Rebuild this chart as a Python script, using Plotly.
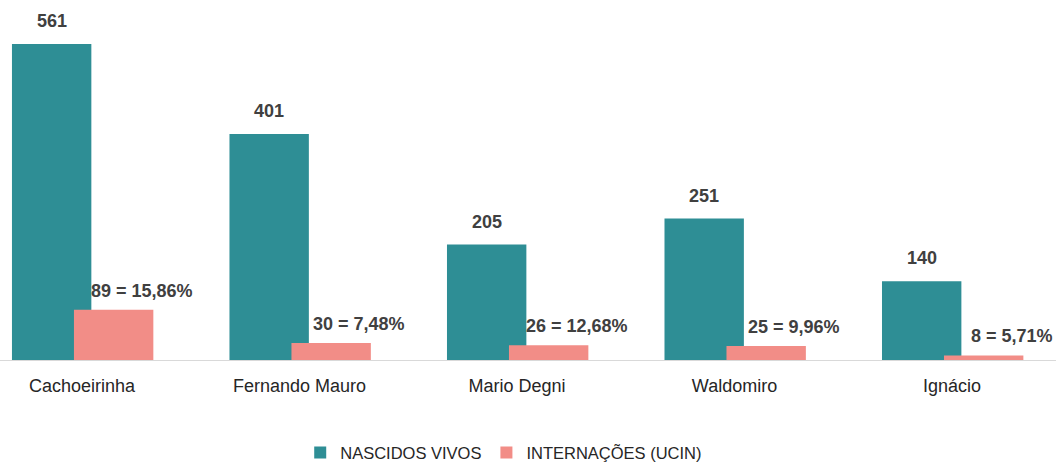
import plotly.graph_objects as go

categories = ["Cachoeirinha", "Fernando Mauro", "Mario Degni", "Waldomiro", "Ignácio"]
nascidos = [561, 401, 205, 251, 140]
internacoes = [89, 30, 26, 25, 8]
internacoes_labels = ["89 = 15,86%", "30 = 7,48%", "26 = 12,68%", "25 = 9,96%", "8 = 5,71%"]

TEAL = "#2E8E95"
SALMON = "#F28D87"
TXT = "#404040"
FONT = "Liberation Sans, Arial, sans-serif"
W = 0.365
OFF_T = -0.322
OFF_S = -0.037

fig = go.Figure()
fig.add_trace(go.Bar(name="NASCIDOS VIVOS", x=categories, y=nascidos,
                     marker=dict(color=TEAL, line=dict(width=0)),
                     width=W, offset=OFF_T))
fig.add_trace(go.Bar(name="INTERNAÇÕES (UCIN)", x=categories, y=internacoes,
                     marker=dict(color=SALMON, line=dict(width=0)),
                     width=W, offset=OFF_S))

for i, v in enumerate(nascidos):
    fig.add_annotation(x=i + OFF_T + W / 2, y=v, text=f"<b>{v}</b>", showarrow=False,
                       yanchor="bottom", yshift=11, xref="x", yref="y",
                       font=dict(family=FONT, size=18, color=TXT))
for i, (v, t) in enumerate(zip(internacoes, internacoes_labels)):
    fig.add_annotation(x=i + OFF_S + W / 2 + 0.13, y=v, text=f"<b>{t}</b>", showarrow=False,
                       yanchor="bottom", yshift=7, xref="x", yref="y",
                       font=dict(family=FONT, size=18, color=TXT))

fig.update_layout(
    barmode="overlay",
    width=1056, height=465,
    margin=dict(l=0, r=0, t=0, b=105, autoexpand=False),
    plot_bgcolor="white", paper_bgcolor="white",
    font=dict(family=FONT, color=TXT),
    showlegend=True,
    legend=dict(orientation="h", x=0.477, xanchor="center", y=-0.258, yanchor="middle",
                font=dict(family=FONT, size=16.5, color="#262626"), itemwidth=30,
                traceorder="normal"),
)
fig.update_xaxes(type="category", range=[-0.377, 4.478], showline=True, linecolor="#D9D9D9",
                 linewidth=1, showgrid=False, ticks="", ticklabelstandoff=9,
                 tickfont=dict(family=FONT, size=18, color="#262626"))
fig.update_yaxes(range=[0, 639], visible=False, showgrid=False, zeroline=False)

fig.write_html("out.html", config={"displayModeBar": False},
               post_script="document.body.style.margin='0';document.body.style.overflow='hidden';")
